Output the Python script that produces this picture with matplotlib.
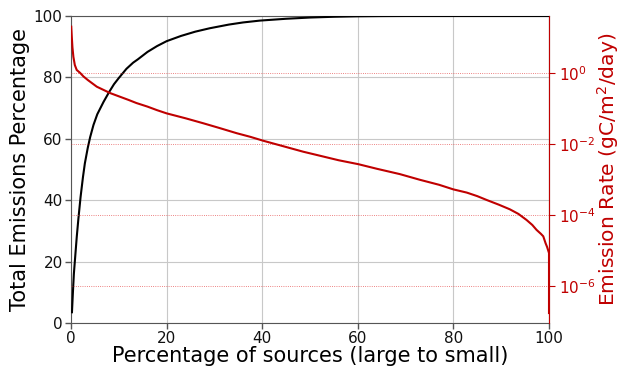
import numpy as np
import matplotlib
matplotlib.use("Agg")
import matplotlib.pyplot as plt

# cumulative share of total emissions vs. percentage of sources (sorted large to small)
cum_x = [0.2, 0.4, 0.6, 0.85, 1.2, 1.55, 2.0, 2.5, 2.9, 3.5, 4.0, 4.7, 5.5, 6.8, 8, 9, 10,
         11.6, 13, 14, 16, 18, 20, 23, 26, 29, 33, 36, 39.5, 45, 50, 55, 60, 65, 70, 100]
cum_y = [3.5, 10, 16, 21, 28, 34, 41, 47.5, 52, 57, 60.5, 64.5, 68, 72, 75.3, 77.8, 79.8,
         82.8, 84.8, 85.9, 88.3, 90.2, 91.8, 93.5, 94.9, 96, 97.2, 97.9, 98.5, 99.1, 99.5,
         99.75, 99.9, 99.97, 100, 100]

# per-source emission rate, log10 of gC/m2/day
rate_x = [0.05, 0.15, 0.3, 0.5, 0.8, 1.2, 1.9, 2.6, 3.5, 4.5, 5.4, 6.8, 8.2, 10, 12, 13.7,
          16, 18, 20, 24, 27.7, 31, 34.7, 37.5, 40.2, 44, 48.6, 52, 56, 60.1, 64, 68.8,
          73, 77, 80, 82.8, 85, 87, 89.5, 91.8, 93.6, 95.3, 96.5, 97.4, 98.3, 98.8, 99.3,
          99.6, 100, 100]
rate_log = [1.3, 1.05, 0.72, 0.45, 0.22, 0.08, 0.0, -0.1, -0.2, -0.3, -0.39, -0.48, -0.57,
            -0.66, -0.76, -0.85, -0.95, -1.05, -1.14, -1.28, -1.42, -1.55, -1.7, -1.8,
            -1.91, -2.05, -2.22, -2.33, -2.46, -2.57, -2.7, -2.85, -3.01, -3.15, -3.28,
            -3.37, -3.47, -3.58, -3.71, -3.84, -3.97, -4.14, -4.28, -4.42, -4.53, -4.6,
            -4.8, -4.9, -5.07, -6.76]

red = '#c00000'
spine_col = '#555555'

fig = plt.figure(figsize=(6.21, 3.69), dpi=100)
ax = fig.add_axes([71/621, 1 - 323/369, 478/621, 307/369])

ax.plot(cum_x, cum_y, color='black', lw=1.5, zorder=3)
ax.set_xlim(0, 100)
ax.set_ylim(0, 100)
ax.set_xticks([0, 20, 40, 60, 80, 100])
ax.set_yticks([0, 20, 40, 60, 80, 100])
ax.grid(True, color='#c8c8c8', lw=0.8)
ax.set_axisbelow(True)
ax.tick_params(labelsize=11, colors='#111111', length=4, width=1, color=spine_col, pad=2)
ax.set_xlabel('Percentage of sources (large to small)', fontsize=15, labelpad=0)
ax.set_ylabel('Total Emissions Percentage', fontsize=15, labelpad=3)
for s in ax.spines.values():
    s.set_color(spine_col)

ax2 = ax.twinx()
ax2.plot(rate_x, 10.0 ** np.array(rate_log), color=red, lw=1.5)
ax2.set_yscale('log')
ax2.set_ylim(10 ** -7.04, 10 ** 1.6)
ax2.set_yticks([1e-6, 1e-4, 1e-2, 1e0])
ax2.set_yticks([], minor=True)
ax2.grid(True, which='major', axis='y', color='#e03030', ls=':', lw=0.6, alpha=0.8)
ax2.tick_params(axis='y', colors=red, labelsize=11, length=4, pad=3)
ax2.set_ylabel('Emission Rate (gC/m$^2$/day)', fontsize=14.6, color=red, labelpad=0)
for k in ['left', 'top', 'bottom']:
    ax2.spines[k].set_visible(False)
ax2.spines['right'].set_color(red)

fig.savefig('out.png', dpi=100)
